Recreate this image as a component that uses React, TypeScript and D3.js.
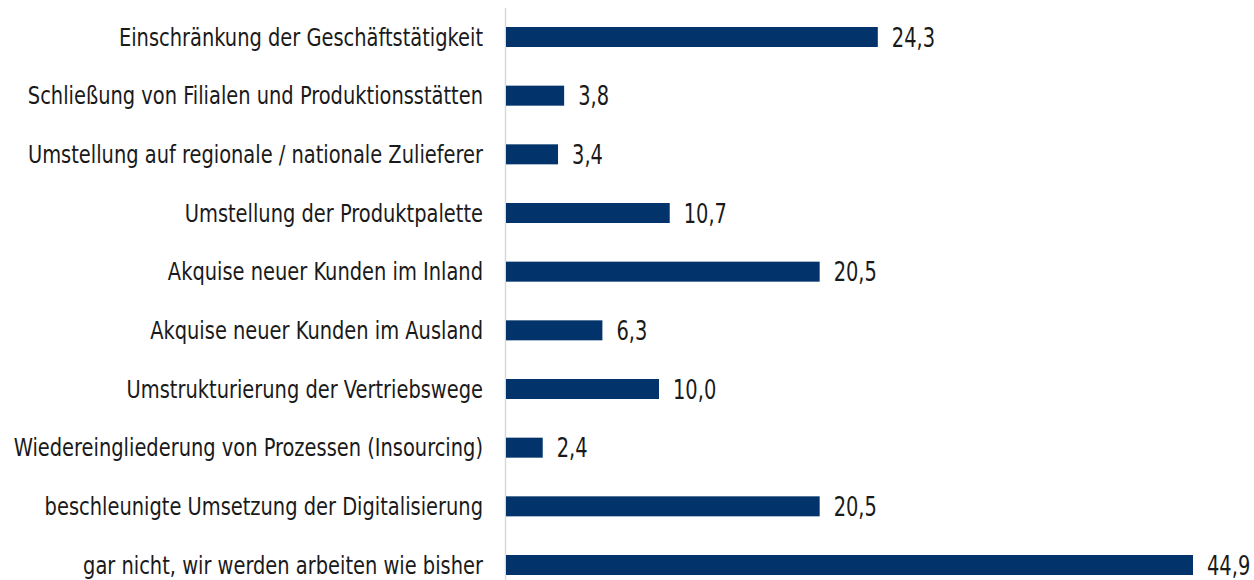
import React from "react";
import * as d3 from "d3";

const categories = [
  "Einschränkung der Geschäftstätigkeit",
  "Schließung von Filialen und Produktionsstätten",
  "Umstellung auf regionale / nationale Zulieferer",
  "Umstellung der Produktpalette",
  "Akquise neuer Kunden im Inland",
  "Akquise neuer Kunden im Ausland",
  "Umstrukturierung der Vertriebswege",
  "Wiedereingliederung von Prozessen (Insourcing)",
  "beschleunigte Umsetzung der Digitalisierung",
  "gar nicht, wir werden arbeiten wie bisher",
];
const values = [24.3, 3.8, 3.4, 10.7, 20.5, 6.3, 10.0, 2.4, 20.5, 44.9];

const W = 1254;
const H = 580;
const FONT = "'DejaVu Sans Condensed', 'Liberation Sans Narrow', sans-serif";

export default function App() {
  const x = d3.scaleLinear().domain([0, 44.9]).range([506, 1193]);
  const y = d3.scalePoint<string>().domain(categories).range([37, 565]);
  const barH = 20;
  const fmt = (v: number) => v.toFixed(1).replace(".", ",");
  return (
    <svg
      width={W}
      height={H}
      style={{ position: "absolute", left: 0, top: 0, background: "#fff" }}
    >
      <line x1={505.5} x2={505.5} y1={8} y2={H} stroke="#d9d9d9" strokeWidth={1.5} />
      {categories.map((c, i) => {
        const cy = y(c)!;
        return (
          <g key={c}>
            <rect
              x={x(0)}
              y={cy - barH / 2}
              width={x(values[i]) - x(0)}
              height={barH}
              fill="#02336a"
            />
            <text
              transform={`translate(483,${cy}) scale(0.9,1)`}
              dy="0.36em"
              textAnchor="end"
              fontFamily={FONT}
              fontSize={24}
              fill="#1a1a1a"
            >
              {c}
            </text>
            <text
              transform={`translate(${x(values[i]) + 14},${cy}) scale(0.8,1)`}
              dy="0.36em"
              fontFamily={FONT}
              fontSize={27}
              fill="#1a1a1a"
            >
              {fmt(values[i])}
            </text>
          </g>
        );
      })}
    </svg>
  );
}
